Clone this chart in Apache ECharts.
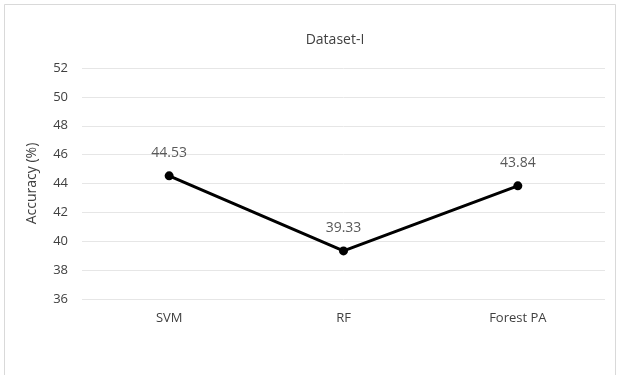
<!DOCTYPE html>
<html><head><meta charset="utf-8">
<script src="https://cdn.jsdelivr.net/npm/echarts@6/dist/echarts.min.js"></script>
<style>html,body{margin:0;padding:0;background:#fff}#c{width:619px;height:375px}</style>
</head><body><div id="c"></div>
<script>
const categories = ["SVM", "RF", "Forest PA"];
const accuracy = [44.53, 39.33, 43.84];
const titleText = "Dataset-I";
const yName = "Accuracy (%)";
const FONT = "'Open Sans', 'Liberation Sans', sans-serif";
const chart = echarts.init(document.getElementById('c'));
chart.setOption({
  animation: false,
  backgroundColor: '#fff',
  graphic: [{type: 'rect', shape: {x: 4.5, y: 4.5, width: 611, height: 380}, style: {fill: 'none', stroke: '#d9d9d9', lineWidth: 1}}],
  title: {text: titleText, left: 330, top: 28, textAlign: 'center', textStyle: {fontFamily: FONT, fontSize: 14, fontWeight: 'normal', color: '#404040'}},
  grid: {left: 82, right: 14, top: 68, bottom: 76},
  xAxis: {type: 'category', data: categories, boundaryGap: true,
    axisLine: {show: false}, axisTick: {show: false},
    axisLabel: {fontFamily: FONT, fontSize: 13, color: '#404040', margin: 13}},
  yAxis: {type: 'value', min: 36, max: 52, interval: 2, name: yName, nameLocation: 'middle', nameGap: 43,
    nameTextStyle: {fontFamily: FONT, fontSize: 14, color: '#404040'},
    axisLine: {show: false}, axisTick: {show: false},
    axisLabel: {fontFamily: FONT, fontSize: 13, color: '#404040', margin: 14},
    splitLine: {lineStyle: {color: '#e6e6e6', width: 1}}},
  series: [{type: 'line', data: accuracy, symbol: 'circle', symbolSize: 9,
    lineStyle: {color: '#000', width: 3}, itemStyle: {color: '#000'},
    label: {show: true, position: 'top', distance: 11, fontFamily: FONT, fontSize: 14, color: '#595959', formatter: p => p.value.toFixed(2)}}]
});
</script></body></html>
